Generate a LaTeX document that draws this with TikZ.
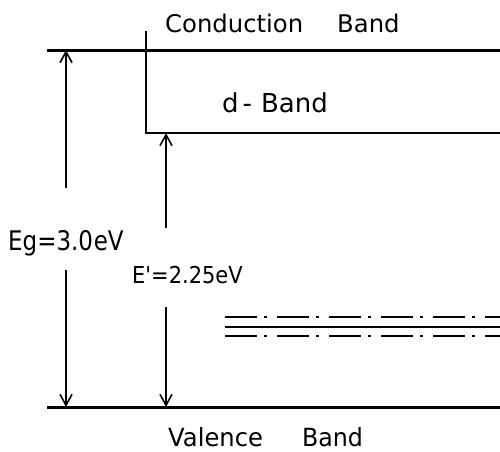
\documentclass[tikz,border=0pt]{standalone}
\usepackage{graphicx}
\usepackage{fontspec}
\setmainfont{DejaVu Sans}
\usetikzlibrary{arrows.meta}

\tikzset{
  bandedge/.style={line width=3pt},
  boxedge/.style={line width=2pt},
  gaparrow/.style={line width=1.6pt, -{Straight Barb[length=11pt,width=12pt,line width=1.6pt]}},
  level/.style={line width=2.2pt, dash pattern=on 32pt off 7pt on 3pt off 10pt},
  levelsolid/.style={line width=2.2pt},
  lbl/.style={inner sep=0pt, anchor=base west, text depth=0pt}
}

\begin{document}
\begin{tikzpicture}[x=1pt,y=-1pt]
  \useasboundingbox (0,0) rectangle (500,451);

  % band edges
  \coordinate (cbL) at (47,50);
  \coordinate (cbR) at (500,50);
  \coordinate (vbL) at (47,407);
  \coordinate (vbR) at (500,407);
  \draw[bandedge] (cbL) -- (cbR);
  \draw[bandedge] (vbL) -- (vbR);

  % d-band outline
  \coordinate (dTop) at (146,31);
  \coordinate (dCorner) at (146,133);
  \coordinate (dR) at (500,133);
  \draw[boxedge] (dTop) -- (dCorner) -- (dR);

  % impurity levels in the gap
  \coordinate (l1L) at (225,317); \coordinate (l1R) at (500,317);
  \coordinate (l2L) at (225,327); \coordinate (l2R) at (500,327);
  \coordinate (l3L) at (225,336); \coordinate (l3R) at (500,336);
  \draw[level] (l1L) -- (l1R);
  \draw[levelsolid] (l2L) -- (l2R);
  \draw[level] (l3L) -- (l3R);

  % labels
  \node[lbl, font=\fontsize{24.3}{27}\selectfont] (cb) at (165,32)
    {Conduction\hspace{34pt}Band};
  \node[lbl, font=\fontsize{26}{29}\selectfont] (db) at (222,112)
    {d\kern4pt-\kern9pt Band};
  \node[lbl, font=\fontsize{25}{28}\selectfont] (vb) at (168,446)
    {\scalebox{0.97}[1]{Valence}\hspace{39pt}\scalebox{0.95}[1]{Band}};
  \node[lbl, font=\fontsize{27}{30}\selectfont] (eg) at (8,250)
    {\scalebox{0.85}[1]{Eg=3.0\kern1pt eV}};
  \node[lbl, font=\fontsize{23.3}{26}\selectfont] (ep) at (132,283)
    {\scalebox{0.9}[1]{E\textquotesingle=2.25eV}};

  % gap arrows
  \coordinate (egTop) at (66,50);
  \coordinate (egA) at (66,188);
  \coordinate (egB) at (66,270);
  \coordinate (egBot) at (66,407);
  \draw[gaparrow] (egA) -- (egTop);
  \draw[gaparrow] (egB) -- (egBot);

  \coordinate (epTop) at (166,133);
  \coordinate (epA) at (166,228);
  \coordinate (epB) at (166,307);
  \coordinate (epBot) at (166,407);
  \draw[gaparrow] (epA) -- (epTop);
  \draw[gaparrow] (epB) -- (epBot);
\end{tikzpicture}
\end{document}
